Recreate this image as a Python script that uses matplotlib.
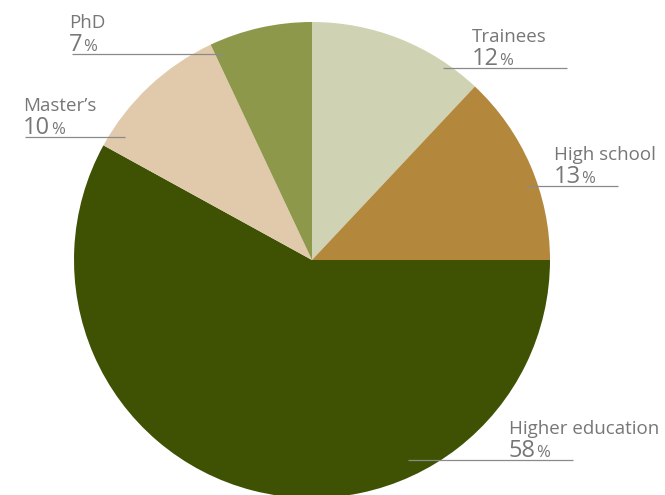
import matplotlib
matplotlib.use("Agg")
import matplotlib.pyplot as plt

# education level shares, clockwise from 12 o'clock
labels = ["Trainees", "High school", "Higher education", "Master\u2019s", "PhD"]
shares = [12, 13, 58, 10, 7]
colors = ["#CFD2B3", "#B3883D", "#3F5204", "#E0CAAB", "#8E984A"]

# label anchors in pixel coords: text x, underline y, underline x0, x1
label_pos = {
    "Trainees": (473, 68, 443, 567),
    "High school": (555, 186, 526, 618),
    "Higher education": (510, 460, 408, 573),
    "Master\u2019s": (24, 137, 25, 125),
    "PhD": (70, 54, 72, 223),
}

W, H = 665, 495
plt.rcParams["font.family"] = ["Open Sans", "DejaVu Sans"]
fig = plt.figure(figsize=(W / 100, H / 100), dpi=100)
ax = fig.add_axes([0, 0, 1, 1])

ax.pie(shares, colors=colors, startangle=90, counterclock=False,
       center=(312, H - 260), radius=238,
       wedgeprops=dict(linewidth=0))

# pie() resets the limits, so pin them to pixel units afterwards
ax.set_xlim(0, W)
ax.set_ylim(0, H)
ax.set_aspect("equal")
ax.axis("off")

txt_color = "#777777"
fig.canvas.draw()
renderer = fig.canvas.get_renderer()
for lab, val in zip(labels, shares):
    tx, ly, x0, x1 = label_pos[lab]
    y = H - ly
    ax.plot([x0, x1], [y, y], color="#8a8a8a", lw=0.9, solid_capstyle="butt")
    ax.text(tx - 1, y + 26, lab, fontsize=13.5, color=txt_color, va="baseline", ha="left")
    num = ax.text(tx - 1, y + 3, str(val), fontsize=17, color=txt_color, va="baseline", ha="left")
    bb = num.get_window_extent(renderer=renderer)
    ax.text(bb.x1 + 0.5, y + 3, "%", fontsize=12, color=txt_color, va="baseline", ha="left")

fig.savefig("out.png", dpi=100)
